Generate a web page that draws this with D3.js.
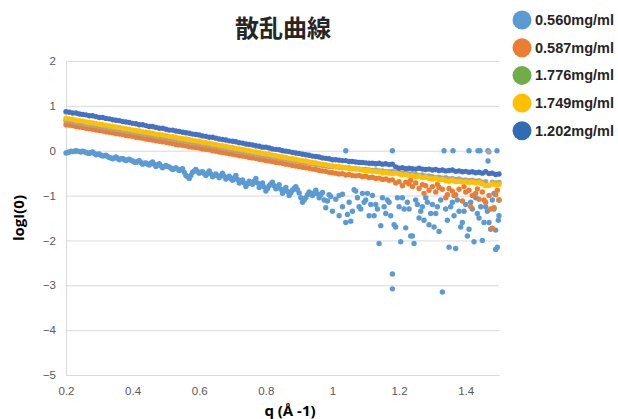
<!DOCTYPE html>
<html>
<head>
<meta charset="utf-8">
<script src="https://cdn.jsdelivr.net/npm/d3@7"></script>
<style>
  body { margin: 0; background: #fff; }
  svg { display: block; }
</style>
</head>
<body>
<div id="chart"></div>
<script>
// q (Å-1), shared by the five series
const qValues = [
  0.20,0.21,0.22,0.23,0.24,0.25,0.26,0.27,0.28,0.29,
  0.30,0.31,0.32,0.33,0.34,0.35,0.36,0.37,0.38,0.39,
  0.40,0.41,0.42,0.43,0.44,0.45,0.46,0.47,0.48,0.49,
  0.50,0.51,0.52,0.53,0.54,0.55,0.56,0.57,0.58,0.59,
  0.60,0.61,0.62,0.63,0.64,0.65,0.66,0.67,0.68,0.69,
  0.70,0.71,0.72,0.73,0.74,0.75,0.76,0.77,0.78,0.79,
  0.80,0.81,0.82,0.83,0.84,0.85,0.86,0.87,0.88,0.89,
  0.90,0.91,0.92,0.93,0.94,0.95,0.96,0.97,0.98,0.99,
  1.00,1.01,1.02,1.03,1.04,1.05,1.06,1.07,1.08,1.09,
  1.10,1.11,1.12,1.13,1.14,1.15,1.16,1.17,1.18,1.19,
  1.20,1.21,1.22,1.23,1.24,1.25,1.26,1.27,1.28,1.29,
  1.30,1.31,1.32,1.33,1.34,1.35,1.36,1.37,1.38,1.39,
  1.40,1.41,1.42,1.43,1.44,1.45,1.46,1.47,1.48,1.49,
  1.50
];
// q intermedios (solo 0.560mg/ml, zona densa)
const qHalf = [
  0.205,0.215,0.225,0.235,0.245,0.255,0.265,0.275,0.285,0.295,
  0.305,0.315,0.325,0.335,0.345,0.355,0.365,0.375,0.385,0.395,
  0.405,0.415,0.425,0.435,0.445,0.455,0.465,0.475,0.485,0.495,
  0.505,0.515,0.525,0.535,0.545,0.555,0.565,0.575,0.585,0.595,
  0.605,0.615,0.625,0.635,0.645,0.655,0.665,0.675,0.685,0.695,
  0.705,0.715,0.725,0.735,0.745,0.755,0.765,0.775,0.785,0.795,
  0.805,0.815,0.825,0.835,0.845,0.855,0.865,0.875,0.885,0.895,
  0.905,0.915,0.925,0.935,0.945,0.955,0.965,0.975,0.985,0.995
];

// logI(0) por serie
const s0560 = [
  -0.05,-0.03,-0.02,0.00,-0.02,-0.01,-0.04,-0.06,-0.03,-0.09,
  -0.07,-0.12,-0.10,-0.15,-0.18,-0.14,-0.20,-0.17,-0.22,-0.19,
  -0.23,-0.26,-0.22,-0.30,-0.27,-0.32,-0.25,-0.35,-0.29,-0.38,
  -0.33,-0.36,-0.42,-0.38,-0.44,-0.40,-0.55,-0.62,-0.48,-0.42,
  -0.50,-0.47,-0.55,-0.45,-0.58,-0.52,-0.60,-0.50,-0.63,-0.57,
  -0.66,-0.55,-0.72,-0.65,-0.80,-0.68,-0.75,-0.62,-0.82,-0.72,
  -0.90,-0.78,-0.70,-0.85,-0.76,-0.95,-0.82,-1.00,-0.88,-0.80,
  -0.94,-1.15,-1.05,-0.92,-1.00,-0.88,-1.05,-0.93,-1.27,-0.98,
  -1.35,-1.08,-1.45,-0.97,-1.60,-1.15,-1.35,-0.90,-1.25,-0.95,
  -1.10,-1.45,-1.00,-1.20,-2.07,-1.05,-1.40,-1.15,-2.75,-1.70,
  -1.25,-1.05,-1.72,-1.30,-1.90,-1.10,-1.50,-1.25,-1.05,-1.65,
  -1.20,-1.40,-1.80,-3.15,-1.30,-2.15,-1.15,-2.18,-1.35,-1.60,
  -1.20,-1.75,-1.30,-1.05,-1.50,-2.00,-1.25,-1.60,-1.10,-2.20,
  -1.45
];
const s0560Half = [
  -0.04,-0.01,-0.01,-0.01,-0.03,-0.02,-0.05,-0.04,-0.06,-0.08,
  -0.10,-0.11,-0.13,-0.16,-0.16,-0.17,-0.18,-0.20,-0.20,-0.21,
  -0.25,-0.24,-0.26,-0.28,-0.30,-0.28,-0.30,-0.32,-0.34,-0.35,
  -0.35,-0.39,-0.40,-0.41,-0.42,-0.48,-0.58,-0.55,-0.45,-0.46,
  -0.48,-0.51,-0.50,-0.52,-0.55,-0.56,-0.55,-0.57,-0.60,-0.62,
  -0.60,-0.64,-0.68,-0.72,-0.74,-0.71,-0.68,-0.72,-0.77,-0.81,
  -0.84,-0.74,-0.78,-0.80,-0.86,-0.88,-0.91,-0.94,-0.84,-0.87,
  -1.05,-1.10,-0.98,-0.96,-0.94,-0.96,-0.99,-1.10,-1.12,-1.02
];
// puntos dispersos extra de 0.560mg/ml (q > 1)
const s0560ExtraQ = [
  1.04,1.18,1.335,1.362,1.41,1.437,1.443,1.467,1.494,1.467,
  1.18,1.02,1.03,1.045,1.055,1.065,1.075,1.085,1.095,1.105,
  1.115,1.125,1.135,1.145,1.155,1.165,1.175,1.185,1.195,1.205,
  1.215,1.225,1.235,1.245,1.255,1.265,1.275,1.285,1.295,1.305,
  1.315,1.325,1.345,1.355,1.365,1.375,1.385,1.395,1.405,1.415,
  1.425,1.435,1.445,1.455,1.465,1.475,1.485,1.495,1.50,1.485,
  1.498,1.49
];
const s0560ExtraY = [
  0.00,0.00,0.00,0.00,0.00,0.00,0.00,0.00,0.00,-0.23,
  -3.08,-1.00,-1.25,-1.42,-1.57,-0.87,-1.05,-1.30,-1.15,-0.95,
  -1.20,-1.45,-1.30,-1.67,-1.25,-1.10,-1.45,-1.65,-1.05,-2.03,
  -1.30,-1.15,-1.90,-2.07,-1.20,-1.35,-1.55,-1.15,-1.40,-1.70,
  -1.25,-1.10,-1.55,-1.25,-1.45,-1.10,-1.70,-1.35,-1.90,-1.15,
  -2.03,-1.40,-1.25,-1.60,-1.35,-1.75,-1.30,-2.15,-1.10,-0.95,
  -1.55,-1.77
];
const s0587 = [
  0.58,0.57,0.56,0.54,0.53,0.52,0.50,0.49,0.48,0.46,
  0.45,0.44,0.42,0.41,0.40,0.38,0.37,0.36,0.34,0.33,
  0.32,0.30,0.29,0.28,0.26,0.25,0.24,0.22,0.21,0.20,
  0.19,0.17,0.16,0.14,0.13,0.12,0.11,0.09,0.08,0.07,
  0.06,0.04,0.03,0.02,0.00,-0.01,-0.03,-0.04,-0.05,-0.07,
  -0.08,-0.09,-0.11,-0.12,-0.13,-0.15,-0.16,-0.17,-0.19,-0.20,
  -0.22,-0.23,-0.24,-0.26,-0.27,-0.28,-0.30,-0.31,-0.33,-0.34,
  -0.35,-0.37,-0.38,-0.39,-0.41,-0.42,-0.44,-0.45,-0.46,-0.48,
  -0.49,-0.50,-0.52,-0.51,-0.54,-0.53,-0.55,-0.56,-0.55,-0.58,
  -0.57,-0.60,-0.59,-0.62,-0.61,-0.64,-0.63,-0.66,-0.65,-0.72,
  -0.69,-0.78,-0.70,-0.74,-0.80,-0.72,-0.84,-0.76,-0.78,-0.88,
  -0.80,-0.92,-0.82,-0.86,-1.05,-0.84,-0.90,-0.98,-0.86,-1.12,
  -0.92,-0.88,-1.00,-0.95,-1.08,-0.92,-1.15,-1.00,-1.73,-0.98,
  -1.10
];
const s0587ExtraQ = [1.235,1.275,1.315,1.345,1.365,1.395,1.415,1.435,1.455,1.475,1.485,1.495];
const s0587ExtraY = [-0.66,-0.95,-0.75,-0.98,-1.00,-0.80,-1.25,-0.85,-1.10,-1.30,-1.27,-0.88];
const s1776 = [
  0.67,0.66,0.65,0.63,0.62,0.61,0.59,0.58,0.57,0.56,
  0.54,0.53,0.52,0.50,0.49,0.48,0.47,0.45,0.44,0.43,
  0.41,0.40,0.39,0.37,0.36,0.35,0.34,0.32,0.31,0.30,
  0.29,0.27,0.26,0.25,0.23,0.22,0.21,0.20,0.18,0.17,
  0.16,0.14,0.13,0.12,0.10,0.09,0.07,0.06,0.05,0.03,
  0.02,0.00,-0.01,-0.02,-0.04,-0.05,-0.06,-0.08,-0.09,-0.10,
  -0.11,-0.13,-0.14,-0.15,-0.17,-0.18,-0.19,-0.21,-0.22,-0.23,
  -0.24,-0.26,-0.27,-0.28,-0.29,-0.31,-0.32,-0.33,-0.34,-0.35,
  -0.36,-0.36,-0.37,-0.38,-0.38,-0.39,-0.40,-0.40,-0.41,-0.42,
  -0.42,-0.43,-0.44,-0.43,-0.45,-0.45,-0.46,-0.47,-0.46,-0.48,
  -0.49,-0.50,-0.49,-0.52,-0.51,-0.53,-0.55,-0.54,-0.57,-0.56,
  -0.58,-0.60,-0.59,-0.61,-0.60,-0.63,-0.62,-0.64,-0.63,-0.66,
  -0.65,-0.67,-0.66,-0.68,-0.67,-0.70,-0.69,-0.03,-0.70,-0.72,
  -0.71
];
const s1749 = [
  0.72,0.71,0.70,0.68,0.67,0.66,0.64,0.63,0.62,0.61,
  0.59,0.58,0.57,0.55,0.54,0.53,0.52,0.50,0.49,0.48,
  0.46,0.45,0.44,0.42,0.41,0.40,0.39,0.37,0.36,0.35,
  0.34,0.32,0.31,0.30,0.28,0.27,0.26,0.25,0.23,0.22,
  0.21,0.19,0.18,0.17,0.15,0.14,0.12,0.11,0.10,0.08,
  0.07,0.05,0.04,0.03,0.01,0.00,-0.02,-0.03,-0.04,-0.06,
  -0.07,-0.08,-0.10,-0.11,-0.13,-0.14,-0.15,-0.17,-0.18,-0.19,
  -0.21,-0.22,-0.23,-0.25,-0.26,-0.27,-0.29,-0.30,-0.31,-0.33,
  -0.34,-0.35,-0.35,-0.37,-0.38,-0.38,-0.40,-0.41,-0.41,-0.43,
  -0.44,-0.44,-0.46,-0.46,-0.47,-0.49,-0.48,-0.50,-0.51,-0.50,
  -0.52,-0.54,-0.53,-0.56,-0.55,-0.58,-0.57,-0.60,-0.59,-0.62,
  -0.63,-0.62,-0.65,-0.64,-0.67,-0.68,-0.66,-0.69,-0.68,-0.70,
  -0.69,-0.71,-0.70,-0.72,-0.71,-0.74,-0.78,-0.77,-0.74,-0.76,
  -0.75
];
const s1202 = [
  0.87,0.86,0.84,0.84,0.82,0.81,0.80,0.78,0.78,0.76,
  0.74,0.74,0.72,0.71,0.69,0.68,0.67,0.65,0.64,0.63,
  0.61,0.60,0.58,0.58,0.56,0.54,0.54,0.52,0.50,0.50,
  0.48,0.46,0.46,0.44,0.43,0.41,0.40,0.39,0.37,0.36,
  0.35,0.33,0.32,0.30,0.30,0.28,0.26,0.25,0.24,0.22,
  0.21,0.20,0.18,0.17,0.15,0.14,0.13,0.11,0.10,0.08,
  0.08,0.06,0.04,0.03,0.02,0.00,-0.01,-0.02,-0.04,-0.05,
  -0.06,-0.08,-0.09,-0.10,-0.12,-0.13,-0.14,-0.16,-0.17,-0.18,
  -0.20,-0.20,-0.21,-0.22,-0.22,-0.24,-0.24,-0.25,-0.26,-0.26,
  -0.27,-0.28,-0.28,-0.29,-0.28,-0.30,-0.29,-0.31,-0.30,-0.36,
  -0.39,-0.38,-0.40,-0.39,-0.40,-0.41,-0.39,-0.41,-0.42,-0.41,
  -0.43,-0.42,-0.44,-0.43,-0.45,-0.44,-0.43,-0.46,-0.45,-0.47,
  -0.46,-0.48,-0.47,-0.49,-0.48,-0.50,-0.47,-0.51,-0.50,-0.53,
  -0.52
];

const seriesNames = ["0.560mg/ml", "0.587mg/ml", "1.776mg/ml", "1.749mg/ml", "1.202mg/ml"];
const legendColors = ["#5B9BD5", "#ED7D31", "#70AD47", "#FFC000", "#2E6DB4"];
const markerColors = ["#5B9BD5", "#ED7D31", "#A5A5A5", "#FFC000", "#4472C4"];
const yTicks = [-5, -4, -3, -2, -1, 0, 1, 2];
const xTicks = [0.2, 0.4, 0.6, 0.8, 1.0, 1.2, 1.4];
const xTickLabels = ["0.2", "0.4", "0.6", "0.8", "1", "1.2", "1.4"];

const width = 618, height = 419;
const margin = { top: 61, right: 119, bottom: 44, left: 66 };

const svg = d3.select("#chart").append("svg")
    .attr("width", width)
    .attr("height", height)
    .style("background", "#fff");

const x = d3.scaleLinear().domain([0.2, 1.5]).range([margin.left, width - margin.right]);
const y = d3.scaleLinear().domain([-5, 2]).range([height - margin.bottom, margin.top]);

const tickFont = "'Liberation Sans', Arial, sans-serif";

// Eje Y con líneas de cuadrícula
const yAxis = svg.append("g")
    .attr("transform", `translate(${margin.left},0)`)
    .call(d3.axisLeft(y).tickValues(yTicks)
        .tickSize(-(x.range()[1] - x.range()[0]))
        .tickPadding(10)
        .tickFormat(d3.format("d")));
yAxis.select(".domain").attr("stroke", "#D9D9D9");
yAxis.selectAll(".tick line").attr("stroke", "#D9D9D9");
yAxis.selectAll(".tick text")
    .attr("fill", "#595959")
    .style("font-family", tickFont)
    .style("font-size", "11.5px");

// Eje X
const xAxis = svg.append("g")
    .attr("transform", `translate(0,${y(-5)})`)
    .call(d3.axisBottom(x).tickValues(xTicks).tickSize(0).tickPadding(12)
        .tickFormat((d, i) => xTickLabels[i]));
xAxis.select(".domain").attr("stroke", "#D9D9D9");
xAxis.selectAll(".tick text")
    .attr("fill", "#595959")
    .style("font-family", tickFont)
    .style("font-size", "11.5px");

// Puntos: orden de dibujo como en Excel
const seriesData = [
    qValues.map((q, i) => [q, s0560[i]])
        .concat(qHalf.map((q, i) => [q, s0560Half[i]]))
        .concat(s0560ExtraQ.map((q, i) => [q, s0560ExtraY[i]])),
    qValues.map((q, i) => [q, s0587[i]]).concat(s0587ExtraQ.map((q, i) => [q, s0587ExtraY[i]])),
    qValues.map((q, i) => [q, s1776[i]]),
    qValues.map((q, i) => [q, s1749[i]]),
    qValues.map((q, i) => [q, s1202[i]])
];

seriesData.forEach((pts, k) => {
    svg.append("g")
        .selectAll("circle")
        .data(pts)
        .enter()
        .append("circle")
        .attr("cx", d => x(d[0]))
        .attr("cy", d => y(d[1]))
        .attr("r", 2.7)
        .attr("fill", markerColors[k]);
});

// Título
svg.append("text")
    .attr("x", 283)
    .attr("y", 37)
    .attr("text-anchor", "middle")
    .style("font-family", "'Noto Sans CJK JP', sans-serif")
    .style("font-weight", "bold")
    .style("font-size", "24px")
    .attr("fill", "#262626")
    .text("散乱曲線");

// Etiquetas de ejes
svg.append("text")
    .attr("transform", `translate(24,218) rotate(-90)`)
    .attr("text-anchor", "middle")
    .style("font-family", "'Open Sans', sans-serif")
    .style("font-weight", "bold")
    .style("font-size", "15px")
    .attr("fill", "#000")
    .text("logI(0)");

svg.append("text")
    .attr("x", 290)
    .attr("y", 416)
    .attr("text-anchor", "middle")
    .style("font-family", "'Open Sans', sans-serif")
    .style("font-weight", "bold")
    .style("font-size", "15px")
    .attr("fill", "#000")
    .text("q (Å -1)");

// Leyenda
const legend = svg.append("g")
    .selectAll("g")
    .data(seriesNames)
    .enter()
    .append("g")
    .attr("transform", (d, i) => `translate(522,${20 + i * 27.7})`);

legend.append("circle")
    .attr("r", 9.5)
    .attr("fill", (d, i) => legendColors[i]);

legend.append("text")
    .attr("x", 13)
    .attr("y", 5)
    .style("font-family", tickFont)
    .style("font-weight", "bold")
    .style("font-size", "14.5px")
    .attr("fill", "#262626")
    .text(d => d);
</script>
</body>
</html>
